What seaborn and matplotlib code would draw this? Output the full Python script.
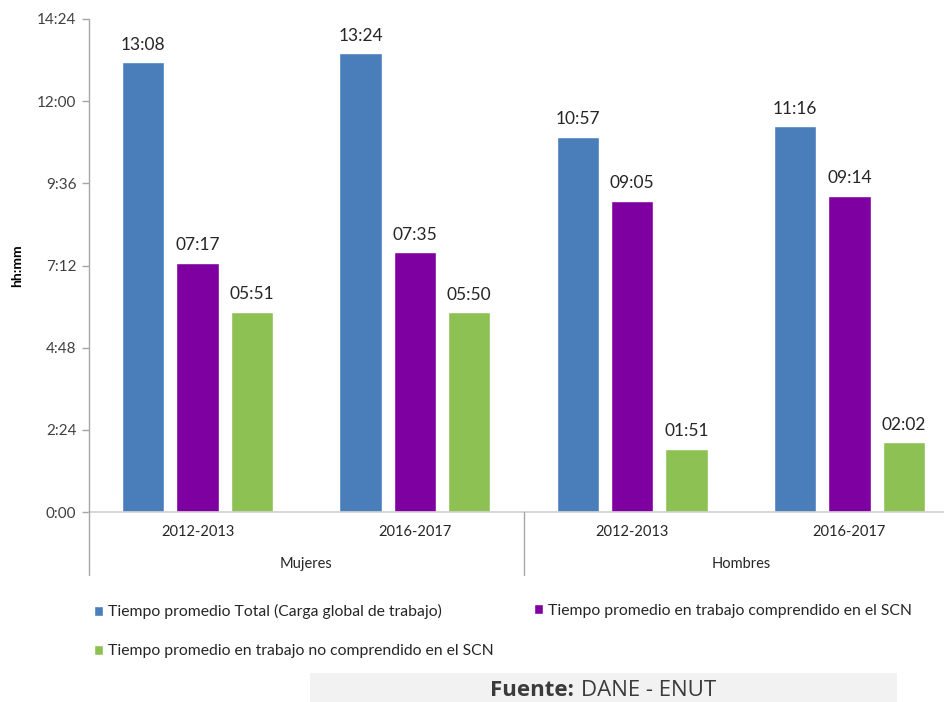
import matplotlib
matplotlib.use("Agg")
import matplotlib.pyplot as plt
import seaborn as sns
import pandas as pd
from matplotlib.lines import Line2D
from matplotlib.patches import Rectangle

# ---------------- data ----------------
sexes = ["Mujeres", "Mujeres", "Hombres", "Hombres"]
periods = ["2012-2013", "2016-2017", "2012-2013", "2016-2017"]
series = [
    "Tiempo promedio Total (Carga global de trabajo)",
    "Tiempo promedio en trabajo comprendido en el SCN",
    "Tiempo promedio en trabajo no comprendido en el SCN",
]
total = ["13:08", "13:24", "10:57", "11:16"]
scn = ["07:17", "07:35", "09:05", "09:14"]
no_scn = ["05:51", "05:50", "01:51", "02:02"]
ytick_labels = ["0:00", "2:24", "4:48", "7:12", "9:36", "12:00", "14:24"]
colors = ["#4A7EBB", "#7F00A0", "#8DC153"]


def to_min(s):
    h, m = s.split(":")
    return int(h) * 60 + int(m)


rows = []
for sname, vals in zip(series, [total, scn, no_scn]):
    for sx, per, v in zip(sexes, periods, vals):
        rows.append({"cat": f"{sx} {per}", "serie": sname,
                     "minutes": to_min(v), "label": v})
df = pd.DataFrame(rows)
cats = [f"{sx} {per}" for sx, per in zip(sexes, periods)]

# ---------------- figure ----------------
sns.set_theme(style="white")
plt.rcParams["font.family"] = ["Lato", "DejaVu Sans"]
W, H = 944, 702
fig = plt.figure(figsize=(W / 100, H / 100), dpi=100)
fig.patch.set_facecolor("white")

ax_left, ax_right, ax_top, ax_bottom = 89, 958, 19, 512
ax = fig.add_axes([ax_left / W, 1 - ax_bottom / H,
                   (ax_right - ax_left) / W, (ax_bottom - ax_top) / H])

sns.barplot(data=df, x="cat", y="minutes", hue="serie", order=cats,
            hue_order=series, palette=colors, saturation=1,
            width=0.75, gap=0.22, ax=ax, legend=True, errorbar=None)

for cont, vals in zip(ax.containers, [total, scn, no_scn]):
    ax.bar_label(cont, labels=vals, padding=7, fontsize=12.5, color="#262626")

ax.set_ylim(0, to_min("14:24"))
ax.set_xlim(-0.5, 3.5)
ax.set_yticks([to_min(t) for t in ytick_labels])
ax.set_yticklabels(ytick_labels, fontsize=11, color="#404040")
ax.set_xticks(range(len(cats)))
ax.set_xticklabels(periods, fontsize=10.5, color="#262626")
ax.tick_params(axis="x", length=0, pad=9)
ax.tick_params(axis="y", length=5, width=1, color="#a6a6a6", pad=4, left=True)
ax.set_xlabel("")
ax.set_ylabel("")
for sp in ["top", "right", "left"]:
    ax.spines[sp].set_visible(False)
ax.spines["bottom"].set_color("#d0d0d0")
ax.spines["bottom"].set_linewidth(1.2)

# y axis title
fig.text(17 / W, 1 - 266 / H, "hh:mm", rotation=90, ha="center", va="center",
         fontsize=10, fontweight="bold", color="black")

# left axis line extended down past group labels
fig.add_artist(Line2D([ax_left / W, ax_left / W], [1 - ax_top / H, 1 - 575 / H],
                      transform=fig.transFigure, color="#a6a6a6", lw=1))
# separator between groups
sep_x = ax.transData.transform((1.5, 0))[0] / W
fig.add_artist(Line2D([sep_x, sep_x], [1 - ax_bottom / H, 1 - 575 / H],
                      transform=fig.transFigure, color="#a6a6a6", lw=1))

# group labels
for gname, idx in [("Mujeres", (0, 1)), ("Hombres", (2, 3))]:
    xc = ax.transData.transform((sum(idx) / 2, 0))[0] / W
    fig.text(xc, 1 - 564 / H, gname, ha="center", va="center",
             fontsize=10.5, color="#262626")

# legend
handles, labels = ax.get_legend_handles_labels()
ax.get_legend().remove()
common = dict(frameon=False, handlelength=0.6, handleheight=0.6,
              handletextpad=0.3, fontsize=11.3, loc="upper left",
              borderaxespad=0, borderpad=0, labelcolor="#262626")
fig.legend([handles[0], handles[2]], [labels[0], labels[2]], ncol=1,
           bbox_to_anchor=(94 / W, 1 - 604 / H), labelspacing=1.6, **common)
fig.legend([handles[1]], [labels[1]], ncol=1,
           bbox_to_anchor=(534 / W, 1 - 604 / H), **common)

# source box
fig.add_artist(Rectangle((310 / W, 0), 587 / W, 29 / H, transform=fig.transFigure,
                         facecolor="#f2f2f2", edgecolor="none"))
fig.text(574 / W, 6 / H, "Fuente:", ha="right", va="baseline",
         fontsize=16, fontweight="bold", color="#3b3b3b", family="Open Sans")
fig.text(581 / W, 6 / H, "DANE - ENUT", ha="left", va="baseline",
         fontsize=16, color="#3b3b3b", family="Open Sans")

fig.savefig("out.png", dpi=100)
